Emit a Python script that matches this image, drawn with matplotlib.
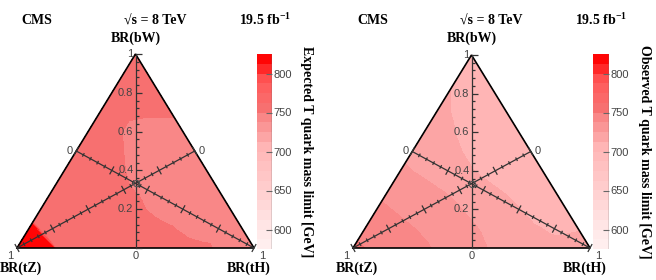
import numpy as np
import matplotlib
matplotlib.use('Agg')
import matplotlib.pyplot as plt
import matplotlib.tri as mtri
from matplotlib.collections import LineCollection
from matplotlib.colors import LinearSegmentedColormap

FW, FH = 656, 280
SERIF = ['Liberation Serif', 'DejaVu Serif']
SANS = ['Liberation Sans', 'DejaVu Sans']

# T quark mass limits (GeV):
# one row per BR(bW) = 0.0 ... 1.0, entries for BR(tH) = 0.0 ... 1 - BR(bW)
exp_rows = [
    [820, 815, 756, 756, 756, 756, 756, 755, 752, 744, 744],
    [815, 756, 756, 756, 756, 756, 751, 745, 744, 744],
    [756, 756, 756, 756, 753, 746, 744, 744, 744],
    [756, 756, 756, 752, 747, 744, 744, 744],
    [756, 756, 754, 747, 744, 744, 744],
    [756, 756, 750, 744, 744, 744],
    [756, 754, 745, 744, 744],
    [756, 754, 752, 752],
    [756, 756, 756],
    [756, 756],
    [756],
]
# extra readings on both sides of the edge of the red tZ corner
exp_extra_bw = [0.0, 0.06, 0.125, 0.0, 0.07, 0.135]
exp_extra_th = [0.155, 0.075, 0.0, 0.165, 0.085, 0.0]
exp_extra_lim = [815, 815, 815, 756, 756, 756]

obs_rows = [
    [752, 748, 743, 739, 734, 729, 723, 719, 716, 715, 716],
    [746, 742, 738, 734, 729, 724, 719, 714, 711, 712],
    [740, 736, 731, 728, 723, 719, 713, 708, 709],
    [734, 730, 726, 722, 716, 711, 706, 706],
    [727, 723, 718, 713, 708, 704, 704],
    [722, 718, 713, 708, 704, 703],
    [718, 714, 709, 705, 703],
    [715, 711, 707, 704],
    [713, 709, 706],
    [711, 708],
    [710],
]

levels = np.arange(575, 825.1, 12.5)
cbar_ticks = [600, 650, 700, 750, 800]

cmap = LinearSegmentedColormap.from_list('cmsred', [
    (0.0, (1.0, 0.94, 0.94)),
    (0.1, (1.0, 0.91, 0.91)),
    (0.3, (1.0, 0.81, 0.81)),
    (0.525, (1.0, 0.71, 0.71)),
    (0.575, (0.99, 0.65, 0.65)),
    (0.625, (0.98, 0.59, 0.59)),
    (0.675, (0.975, 0.53, 0.53)),
    (0.725, (0.97, 0.44, 0.44)),
    (0.85, (1.0, 0.36, 0.36)),
    (0.9, (1.0, 0.28, 0.28)),
    (0.95, (1.0, 0.04, 0.04)),
    (1.0, (1.0, 0.0, 0.0)),
])


def grid_points(rows):
    bw, th, val = [], [], []
    for i, row in enumerate(rows):
        for j, v in enumerate(row):
            bw.append(i * 0.1)
            th.append(j * 0.1)
            val.append(v)
    return bw, th, val


def rect(x0, y0, x1, y1):
    # pixel box (top-left origin) -> figure fraction
    return [x0 / FW, 1 - y1 / FH, (x1 - x0) / FW, (y1 - y0) / FH]


def ftext(x, y, s, **kw):
    fig.text(x / FW, 1 - y / FH, s, **kw)


def draw_panel(box, cbox, bw, th, lim, zlabel, xoff):
    x0, y0, x1, y1 = box
    W, H = x1 - x0, y1 - y0
    ax = fig.add_axes(rect(*box))
    ax.set_xlim(0, 1)
    ax.set_ylim(0, 1)
    ax.axis('off')

    bw = np.array(bw)
    th = np.array(th)
    x = th + bw / 2
    tri = mtri.Triangulation(x, bw)
    cf = ax.tricontourf(tri, lim, levels=levels, cmap=cmap, vmin=575, vmax=825)

    # triangle outline
    ax.plot([0, 1, 0.5, 0], [0, 0, 1, 0], color='black', lw=1.2,
            clip_on=False, solid_joinstyle='miter')

    # vertical BR(bW) axis
    ax.plot([0.5, 0.5], [0, 1], color='#333333', lw=0.9, clip_on=False)
    segs = []
    for k in range(26):
        v = k * 0.04
        L = 6 if k % 5 == 0 else 3
        segs.append([(0.5, v), (0.5 + L / W, v)])
    # BR(tZ) and BR(tH) medians, value 1 at corner, 0 at mid-side
    for p1, p0 in [((0, 0), (0.75, 0.5)), ((1, 0), (0.25, 0.5))]:
        ax.plot([p1[0], p0[0]], [p1[1], p0[1]], color='#333333', lw=0.9,
                clip_on=False)
        dx, dy = (p1[0] - p0[0]) * W, (p1[1] - p0[1]) * H
        n = np.hypot(dx, dy)
        nx, ny = -dy / n, dx / n
        for k in range(26):
            v = k * 0.04
            L = 4.5 if k % 5 == 0 else 2
            px = p0[0] + v * (p1[0] - p0[0])
            py = p0[1] + v * (p1[1] - p0[1])
            segs.append([(px - nx * L / W, py - ny * L / H),
                         (px + nx * L / W, py + ny * L / H)])
    ax.add_collection(LineCollection(segs, colors='#333333', linewidths=0.9,
                                     clip_on=False))
    ax.plot([0.5], [1 / 3], marker='o', ms=4.5, mfc='none', mec='#555555',
            mew=0.8, clip_on=False)

    lab = dict(fontsize=8, color='#444444', family=SANS)
    xa = x0 + W / 2
    for v in [0.2, 0.4, 0.6, 0.8, 1.0]:
        ftext(xa - 2, y1 - v * H, '%g' % v, ha='right', va='center', **lab)
    ftext(xa, y1 + 8, '0', ha='center', va='center', **lab)
    ftext(x0 + 0.25 * W - 7, y0 + H / 2, '0', ha='center', va='center', **lab)
    ftext(x0 + 0.75 * W + 7, y0 + H / 2, '0', ha='center', va='center', **lab)
    ftext(x0 - 7, y1 + 8, '1', ha='center', va='center', **lab)
    ftext(x1 + 8, y1 + 8, '1', ha='center', va='center', **lab)

    big = dict(fontsize=10, fontweight='bold', family=SERIF)
    ftext(xa, 38, 'BR(bW)', ha='center', va='center', **big)
    ftext(x0 + 4, 268, 'BR(tZ)', ha='center', va='center', **big)
    ftext(x1 - 5, 268, 'BR(tH)', ha='center', va='center', **big)
    ftext(xoff + 37, 21, 'CMS', ha='center', va='center', **big)
    ftext(xoff + 155, 21, '\u221as = 8 TeV', ha='center', va='center', **big)
    ftext(xoff + 265, 20, '19.5 fb$^{\\mathregular{-1}}$', ha='center',
          va='center', **big)

    cax = fig.add_axes(rect(*cbox))
    cb = fig.colorbar(cf, cax=cax, ticks=cbar_ticks)
    cb.outline.set_visible(False)
    cax.axvline(1, color='#666666', lw=1.0)
    cax.tick_params(direction='in', length=4, width=0.8, color='#666666',
                    labelsize=8, labelcolor='#444444', pad=1)
    for t in cax.get_yticklabels():
        t.set_family(SANS)
    ftext(cbox[2] + 35, 152, zlabel, rotation=270, ha='center', va='center',
          **big)


fig = plt.figure(figsize=(FW / 100, FH / 100), dpi=100)

bw, th, lim = grid_points(exp_rows)
draw_panel((17, 54, 254, 248), (257, 54, 272, 249),
           bw + exp_extra_bw, th + exp_extra_th, lim + exp_extra_lim,
           'Expected T quark mass limit [GeV]', 0)

bw, th, lim = grid_points(obs_rows)
draw_panel((353, 55, 590, 248), (593, 54, 609, 249), bw, th, lim,
           'Observed T quark mass limit [GeV]', 336)

fig.savefig('out.png', dpi=100)
